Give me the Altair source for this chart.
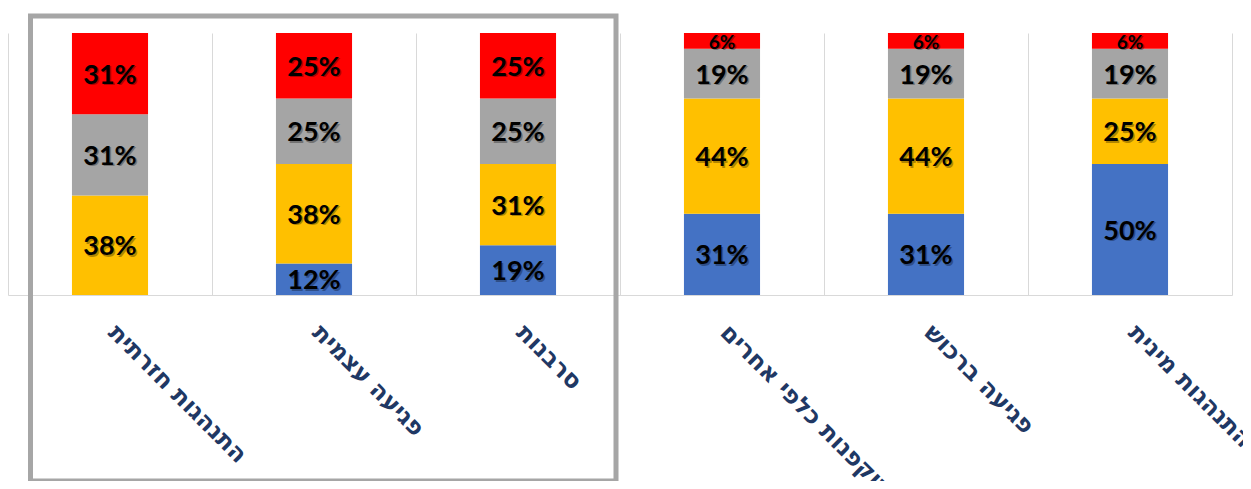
import altair as alt
import pandas as pd

categories = ["התנהגות חזרתית", "פגיעה עצמית", "סרבנות",
              "תוקפנות כלפי אחרים", "פגיעה ברכוש", "התנהגות מינית"]
series = ["s1", "s2", "s3", "s4"]
blue_vals = [0, 12, 19, 31, 31, 50]
yellow_vals = [38, 38, 31, 44, 44, 25]
gray_vals = [31, 25, 25, 19, 19, 19]
red_vals = [31, 25, 25, 6, 6, 6]
colors = ["#4472C4", "#FFC000", "#A5A5A5", "#FF0000"]

rows = []
for si, vals in enumerate([blue_vals, yellow_vals, gray_vals, red_vals]):
    for c, v in zip(categories, vals):
        rows.append({"cat": c, "series": series[si], "order": si, "val": v})
df = pd.DataFrame(rows)

x_enc = alt.X("cat:N", sort=categories, title=None,
              scale=alt.Scale(paddingInner=0, paddingOuter=0),
              axis=alt.Axis(labelAngle=45, labelAlign="left", labelBaseline="top",
                            labelOffset=10, labelPadding=25, ticks=False,
                            tickBand="extent", grid=True, gridColor="#D9D9D9",
                            domainColor="#D9D9D9", labelColor="#1F3864",
                            labelFont="DejaVu Sans", labelFontSize=24,
                            labelFontWeight="bold", labelLimit=400))

base = alt.Chart(df)

bars = base.mark_bar(width=alt.RelativeBandSize(0.373)).encode(
    x=x_enc,
    y=alt.Y("val:Q", stack="zero", scale=alt.Scale(domain=[0, 100], nice=False),
            axis=None),
    color=alt.Color("series:N", scale=alt.Scale(domain=series, range=colors), legend=None),
    order=alt.Order("order:Q", sort="ascending"),
)

lab = base.transform_stack(
    stack="val", groupby=["cat"], sort=[alt.SortField("order", order="ascending")],
    as_=["y0", "y1"]
).transform_filter("datum.val > 0").transform_calculate(
    mid="(datum.y0 + datum.y1) / 2", txt="datum.val + '%'"
)

size_enc = alt.condition("datum.val < 10", alt.value(19), alt.value(27))

shadow = lab.mark_text(font="Lato", fontWeight="bold", color="#000000", opacity=0.3,
                       baseline="middle", dx=1.5, dy=3.5).encode(
    x=alt.X("cat:N", sort=categories), y=alt.Y("mid:Q"), text="txt:N", size=size_enc)

text = lab.mark_text(font="Lato", fontWeight="bold", color="#000000",
                     baseline="middle", dy=2).encode(
    x=alt.X("cat:N", sort=categories), y=alt.Y("mid:Q"), text="txt:N", size=size_enc)

box = alt.Chart(pd.DataFrame({"k": [0]})).mark_rect(
    filled=False, stroke="#A6A6A6", strokeWidth=5).encode(
    x=alt.value(22.5), x2=alt.value(608), y=alt.value(-17), y2=alt.value(448))

chart = alt.layer(bars, shadow, text, box).properties(
    width=1224, height=262,
    autosize=alt.AutoSizeParams(type="none"),
    padding={"left": 0, "top": 25, "right": 11, "bottom": 186},
).configure_view(stroke=None)

chart.save("out.html", embed_options={"renderer": "svg", "actions": False})
